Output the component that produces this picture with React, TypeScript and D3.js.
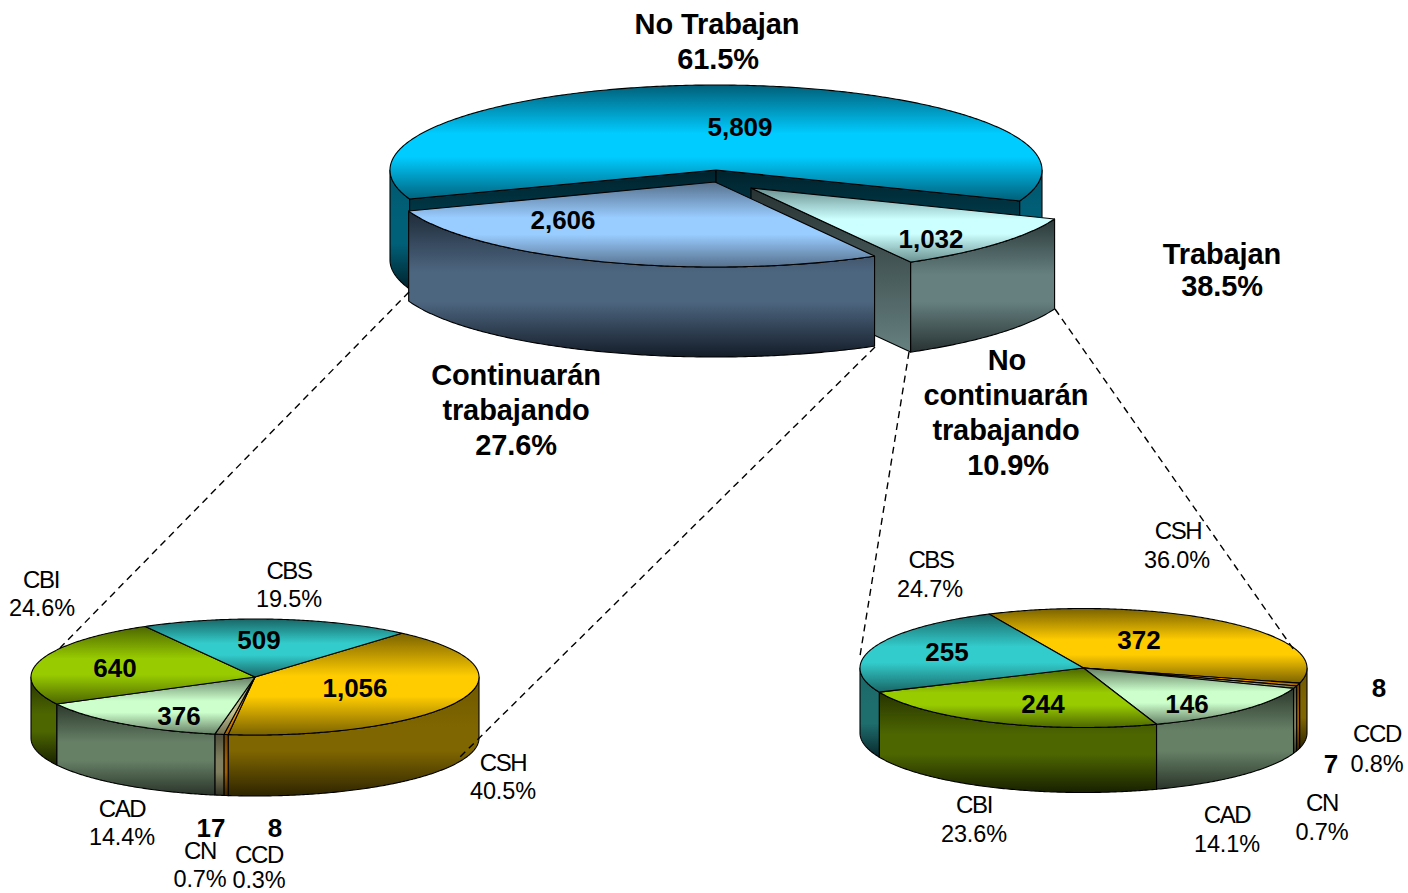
import React, { useMemo } from "react";
import * as d3 from "d3";

// ---------- data ----------
const mainNames = ["No Trabajan", "No continuarán", "Continuarán"];
const mainValues = [5809, 1032, 2606];
const leftCategories = ["CSH", "CCD", "CN", "CAD", "CBI", "CBS"];
const leftValues = [1056, 8, 17, 376, 640, 509];
const rightCategories = ["CSH", "CCD", "CN", "CAD", "CBI", "CBS"];
const rightValues = [372, 8, 7, 146, 244, 255];

const mainPct = ["61.5%", "10.9%", "27.6%"];
const leftPct = ["40.5%", "0.3%", "0.7%", "14.4%", "24.6%", "19.5%"];
const rightPct = ["36.0%", "0.8%", "0.7%", "14.1%", "23.6%", "24.7%"];
const workingPct = "38.5%";

// ---------- colours ----------
type Tone = { top: string; topDark: string; side: string; sideTop: string; sideBottom: string };
const tones: Record<string, Tone> = {
  "No Trabajan": { top: "#00ccff", topDark: "#005f78", side: "#006078", sideTop: "#00586e", sideBottom: "#00222c" },
  "No continuarán": { top: "#ccffff", topDark: "#6a9090", side: "#668080", sideTop: "#2a3838", sideBottom: "#283232" },
  Continuarán: { top: "#99ccff", topDark: "#56708c", side: "#4d6680", sideTop: "#1e2a38", sideBottom: "#141c28" },
  CSH: { top: "#ffcc00", topDark: "#7a6200", side: "#806600", sideTop: "#6e5800", sideBottom: "#2e2500" },
  CCD: { top: "#ff9900", topDark: "#995c00", side: "#a05f00", sideTop: "#704000", sideBottom: "#3a2400" },
  CN: { top: "#c0c090", topDark: "#6e6e50", side: "#808060", sideTop: "#50503c", sideBottom: "#303024" },
  CAD: { top: "#ccffcc", topDark: "#668066", side: "#668066", sideTop: "#2c382c", sideBottom: "#2a342a" },
  CBI: { top: "#99cc00", topDark: "#4d6600", side: "#4d6600", sideTop: "#263300", sideBottom: "#182000" },
  CBS: { top: "#33cccc", topDark: "#196666", side: "#1f6e6e", sideTop: "#1a6666", sideBottom: "#08282c" },
};

// ---------- geometry of the three pies ----------
type PieSpec = {
  id: string; names: string[]; values: number[];
  cx: number; cy: number; rx: number; ry: number; depth: number;
  startDeg: number; offsets: [number, number][]; walls: boolean; order: number[];
};
const pies: PieSpec[] = [
  { id: "m", names: mainNames, values: mainValues, cx: 716, cy: 170, rx: 326, ry: 85, depth: 90, startDeg: -110,
    offsets: [[0, 0], [35, 18], [-1, 12]], walls: true, order: [0, 1, 2] },
  { id: "l", names: leftCategories, values: leftValues, cx: 255, cy: 677, rx: 224, ry: 58, depth: 61, startDeg: 41,
    offsets: leftValues.map(() => [0, 0] as [number, number]), walls: false, order: [0, 1, 2, 3, 4, 5] },
  { id: "r", names: rightCategories, values: rightValues, cx: 1083.5, cy: 668, rx: 223.5, ry: 59.5, depth: 65, startDeg: -25,
    offsets: rightValues.map(() => [0, 0] as [number, number]), walls: false, order: [0, 1, 2, 3, 4, 5] },
];

const leaders: [number, number, number, number][] = [
  [409, 292, 60, 648],
  [875, 347, 460, 757],
  [909, 352, 860, 656],
  [1055, 309, 1294, 650],
];

// ---------- text placement ----------
const fmt = d3.format(",");
type Lab = [string, number, number];
const bigLabels: Lab[] = [
  [mainNames[0], 717, 34], [mainPct[0], 718, 69],
  ["Trabajan", 1222, 264], [workingPct, 1222, 296],
  ["Continuarán", 516, 385], ["trabajando", 516, 420], [mainPct[2], 516, 455],
  ["No", 1007, 370], ["continuarán", 1006, 405], ["trabajando", 1006, 440], [mainPct[1], 1008, 475],
];
const valueLabels: Lab[] = [
  [fmt(mainValues[0]), 740, 136], [fmt(mainValues[2]), 563, 229], [fmt(mainValues[1]), 931, 248],
  [fmt(leftValues[5]), 259, 649], [fmt(leftValues[4]), 115, 677], [fmt(leftValues[0]), 355, 697], [fmt(leftValues[3]), 179, 725],
  [fmt(leftValues[2]), 211, 837], [fmt(leftValues[1]), 275, 837],
  [fmt(rightValues[0]), 1139, 649], [fmt(rightValues[5]), 947, 661], [fmt(rightValues[4]), 1043, 713], [fmt(rightValues[3]), 1187, 713],
  [fmt(rightValues[1]), 1379, 697], [fmt(rightValues[2]), 1331, 773],
];
const categoryLabels: Lab[] = [
  [leftCategories[4], 41, 588], [leftCategories[5], 289, 579], [leftCategories[0], 503, 771],
  [leftCategories[3], 122, 817], [leftCategories[2], 200, 859], [leftCategories[1], 259, 863],
  [rightCategories[0], 1178, 539], [rightCategories[5], 931, 568], [rightCategories[1], 1377, 742],
  [rightCategories[2], 1322, 811], [rightCategories[4], 974, 813], [rightCategories[3], 1227, 823],
];
const percentLabels: Lab[] = [
  [leftPct[4], 42, 616], [leftPct[5], 289, 607], [leftPct[0], 503, 799],
  [leftPct[3], 122, 845], [leftPct[2], 200, 887], [leftPct[1], 259, 888],
  [rightPct[0], 1177, 568], [rightPct[5], 930, 597], [rightPct[1], 1377, 772],
  [rightPct[2], 1322, 840], [rightPct[4], 974, 842], [rightPct[3], 1227, 852],
];

const FONT = "'Liberation Sans', Arial, sans-serif";
const TAU = Math.PI * 2;
const line = d3.line<[number, number]>();

function Gradient({ id, stops }: { id: string; stops: [number, string][] }) {
  return (
    <linearGradient id={id} x1="0" y1="0" x2="0" y2="1">
      {stops.map(([o, c], i) => <stop key={i} offset={o} stopColor={c} />)}
    </linearGradient>
  );
}

function Pie3D({ spec }: { spec: PieSpec }) {
  const { cx, cy, rx, ry, depth } = spec;
  const start = (spec.startDeg * Math.PI) / 180;
  const arcs = useMemo(
    () => d3.pie<number>().sort(null).startAngle(start).endAngle(start + TAU)(spec.values),
    [spec],
  );
  const pt = (a: number, ox: number, oy: number, dz = 0): [number, number] => [
    cx + ox + rx * Math.sin(a),
    cy + oy - ry * Math.cos(a) + dz,
  ];
  const sample = (a0: number, a1: number) => {
    const n = Math.max(2, Math.ceil(Math.abs(a1 - a0) / 0.01));
    return d3.range(n + 1).map((i) => a0 + ((a1 - a0) * i) / n);
  };
  // portions of [a0,a1] lying on the front half of the ellipse (PI/2 .. 3PI/2, modulo TAU)
  const frontSpans = (a0: number, a1: number) => {
    const out: [number, number][] = [];
    for (let k = -1; k <= 2; k++) {
      const lo = Math.max(a0, Math.PI / 2 + k * TAU);
      const hi = Math.min(a1, (3 * Math.PI) / 2 + k * TAU);
      if (hi > lo) out.push([lo, hi]);
    }
    return out;
  };
  const mod = (a: number) => ((a % TAU) + TAU) % TAU;

  return (
    <g stroke="#000" strokeWidth={1.1} strokeLinejoin="round">
      <defs>
        {spec.names.map((n, i) => {
          const t = tones[n];
          return (
            <React.Fragment key={i}>
              <Gradient id={`${spec.id}t${i}`} stops={[[0, t.topDark], [0.42, t.top], [0.62, t.top], [1, t.topDark]]} />
              <Gradient id={`${spec.id}s${i}`} stops={[[0, t.sideTop], [0.42, t.side], [0.62, t.side], [1, t.sideBottom]]} />
              <Gradient id={`${spec.id}w${i}`} stops={[[0, t.sideBottom], [1, t.side]]} />
            </React.Fragment>
          );
        })}
      </defs>
      {spec.order.map((i) => {
        const d = arcs[i];
        const [ox, oy] = spec.offsets[i];
        const apex: [number, number] = [cx + ox, cy + oy];
        const sides = frontSpans(d.startAngle, d.endAngle);
        const a0 = pt(d.startAngle, ox, oy);
        const a1 = pt(d.endAngle, ox, oy);
        const walls: [number, number][][] = [];
        if (spec.walls) {
          if (mod(d.startAngle) > Math.PI) walls.push([apex, a0, [a0[0], a0[1] + depth], [apex[0], apex[1] + depth]]);
          if (mod(d.endAngle) < Math.PI) walls.push([apex, a1, [a1[0], a1[1] + depth], [apex[0], apex[1] + depth]]);
        }
        const topPts: [number, number][] = [apex, ...sample(d.startAngle, d.endAngle).map((a) => pt(a, ox, oy))];
        return (
          <g key={i}>
            {sides.map(([lo, hi], k) => {
              const upper = sample(lo, hi).map((a) => pt(a, ox, oy));
              const lower = sample(lo, hi).reverse().map((a) => pt(a, ox, oy, depth));
              return <path key={k} d={line([...upper, ...lower])! + "Z"} fill={`url(#${spec.id}s${i})`} />;
            })}
            {walls.map((w, k) => (
              <path key={k} d={line(w)! + "Z"} fill={`url(#${spec.id}w${i})`} />
            ))}
            <path d={line(topPts)! + "Z"} fill={`url(#${spec.id}t${i})`} />
          </g>
        );
      })}
    </g>
  );
}

function Labels({ items, size, weight, spacing }: { items: Lab[]; size: number; weight: string; spacing: number }) {
  return (
    <g fontFamily={FONT} fontSize={size} fontWeight={weight} fill="#000" textAnchor="middle" letterSpacing={spacing}>
      {items.map(([t, x, y], i) => (
        <text key={i} x={x} y={y}>{t}</text>
      ))}
    </g>
  );
}

export default function App() {
  return (
    <svg width={1408} height={893} style={{ position: "absolute", left: 0, top: 0, background: "#fff" }}>
      {pies.map((p) => <Pie3D key={p.id} spec={p} />)}
      {leaders.map(([x1, y1, x2, y2], i) => (
        <line key={i} x1={x1} y1={y1} x2={x2} y2={y2} stroke="#000" strokeWidth={1.4} strokeDasharray="7 5" />
      ))}
      <Labels items={bigLabels} size={29} weight="bold" spacing={-0.1} />
      <Labels items={valueLabels} size={26} weight="bold" spacing={0} />
      <Labels items={categoryLabels} size={24} weight="normal" spacing={-1.4} />
      <Labels items={percentLabels} size={23.5} weight="normal" spacing={-0.1} />
    </svg>
  );
}
